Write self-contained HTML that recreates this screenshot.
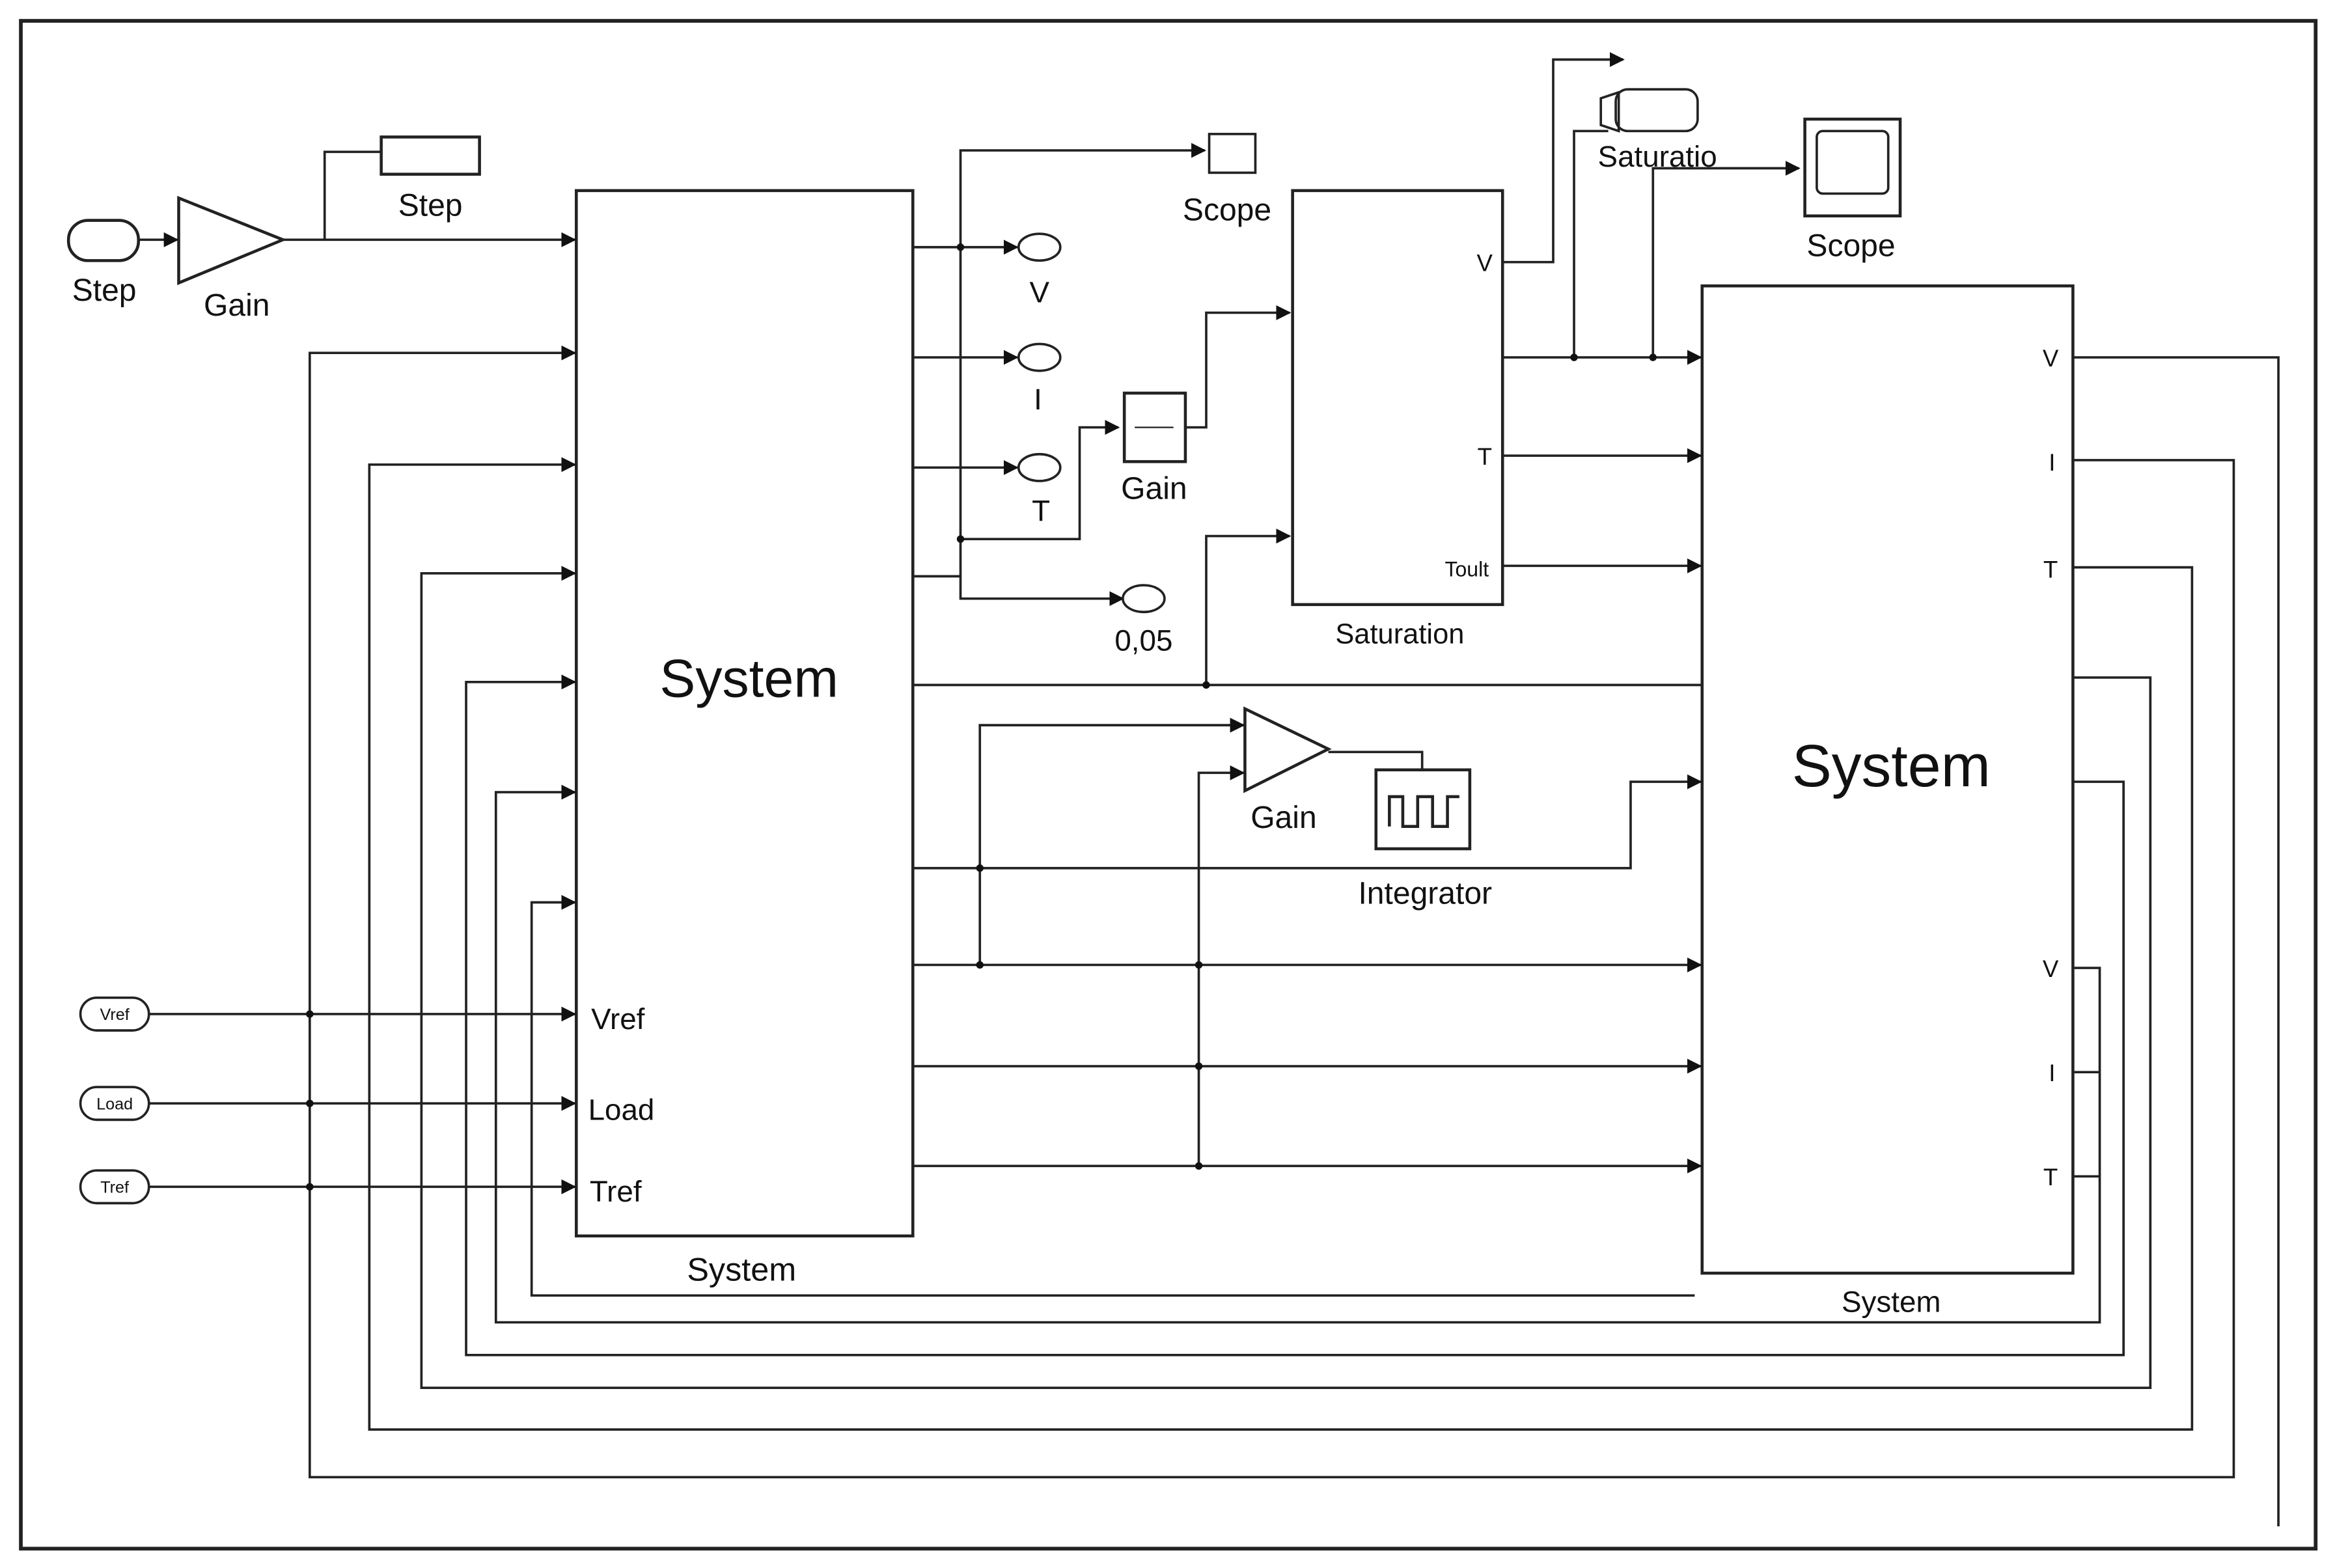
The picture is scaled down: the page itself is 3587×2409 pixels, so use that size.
<!DOCTYPE html>
<html><head><meta charset="utf-8"><style>html,body{margin:0;padding:0;background:#fff}svg{display:block}</style></head>
<body>
<svg width="3587" height="2409" viewBox="0 0 1568 1053" preserveAspectRatio="none" xmlns="http://www.w3.org/2000/svg" font-family="Liberation Sans, sans-serif" fill="none" stroke="#222" stroke-width="1.6">
<defs><marker id="a" markerWidth="10" markerHeight="10" refX="9" refY="5" orient="auto" markerUnits="userSpaceOnUse"><path d="M0,0 L10,5 L0,10z" fill="#111" stroke="none"/></marker></defs>
<rect x="14" y="14" width="1541" height="1026" stroke-width="2.5"/>
<!-- blocks -->
<rect x="387" y="128" width="226" height="702" stroke-width="2"/>
<rect x="1143" y="192" width="249" height="663" stroke-width="2"/>
<rect x="868" y="128" width="141" height="278" stroke-width="2"/>
<g fill="#111" stroke="none">
<text x="503" y="468" font-size="36" text-anchor="middle">System</text>
<text x="1270" y="528" font-size="40" text-anchor="middle">System</text>
<text x="498" y="860" font-size="22" text-anchor="middle">System</text>
<text x="1270" y="881" font-size="20" text-anchor="middle">System</text>
<text x="940" y="432" font-size="19" text-anchor="middle">Saturation</text>
<text x="997" y="182" font-size="16" text-anchor="middle">V</text>
<text x="997" y="312" font-size="16" text-anchor="middle">T</text>
<text x="985" y="387" font-size="14" text-anchor="middle">Toult</text>
<text x="70" y="202" font-size="21" text-anchor="middle">Step</text>
<text x="159" y="212" font-size="21" text-anchor="middle">Gain</text>
<text x="289" y="145" font-size="21" text-anchor="middle">Step</text>
<text x="698" y="203" font-size="20" text-anchor="middle">V</text>
<text x="697" y="275" font-size="20" text-anchor="middle">I</text>
<text x="699" y="350" font-size="20" text-anchor="middle">T</text>
<text x="768" y="437" font-size="20" text-anchor="middle">0,05</text>
<text x="824" y="148" font-size="21" text-anchor="middle">Scope</text>
<text x="775" y="335" font-size="21" text-anchor="middle">Gain</text>
<text x="1113" y="112" font-size="20" text-anchor="middle">Saturatio</text>
<text x="1243" y="172" font-size="21" text-anchor="middle">Scope</text>
<text x="862" y="556" font-size="21" text-anchor="middle">Gain</text>
<text x="957" y="607" font-size="21" text-anchor="middle">Integrator</text>
<text x="397" y="691" font-size="20">Vref</text>
<text x="395" y="752" font-size="20">Load</text>
<text x="396" y="807" font-size="20">Tref</text>
<text x="1377" y="246" font-size="16" text-anchor="middle">V</text>
<text x="1378" y="316" font-size="16" text-anchor="middle">I</text>
<text x="1377" y="388" font-size="16" text-anchor="middle">T</text>
<text x="1377" y="656" font-size="16" text-anchor="middle">V</text>
<text x="1378" y="726" font-size="16" text-anchor="middle">I</text>
<text x="1377" y="796" font-size="16" text-anchor="middle">T</text>
<text x="77" y="685" font-size="11" text-anchor="middle">Vref</text>
<text x="77" y="745" font-size="11" text-anchor="middle">Load</text>
<text x="77" y="801" font-size="11" text-anchor="middle">Tref</text>
</g>
<!-- sources -->
<rect x="46" y="148" width="47" height="27" rx="13" stroke-width="2"/>
<path d="M93,161 H119" marker-end="url(#a)"/>
<path d="M120,133 L190,161 L120,190z" stroke-width="2"/>
<path d="M190,161 H386" marker-end="url(#a)"/>
<path d="M218,161 V102 H256"/>
<rect x="256" y="92" width="66" height="25" stroke-width="2"/>
<rect x="54" y="670" width="46" height="22" rx="11"/>
<rect x="54" y="730" width="46" height="22" rx="11"/>
<rect x="54" y="786" width="46" height="22" rx="11"/>
<path d="M100,681 H386" marker-end="url(#a)"/>
<path d="M100,741 H386" marker-end="url(#a)"/>
<path d="M100,797 H386" marker-end="url(#a)"/>
<!-- feedback loops -->
<path d="M1392,240 H1530 V1025"/>
<path d="M1392,309 H1500 V992 H208 V237 H386" marker-end="url(#a)"/>
<path d="M1392,381 H1472 V960 H248 V312 H386" marker-end="url(#a)"/>
<path d="M1392,455 H1444 V932 H283 V385 H386" marker-end="url(#a)"/>
<path d="M1392,525 H1426 V910 H313 V458 H386" marker-end="url(#a)"/>
<path d="M1392,650 H1410 V888 H333 V532 H386" marker-end="url(#a)"/>
<path d="M1392,720 H1410 M1392,790 H1410"/>
<path d="M1138,870 H357 V606 H386" marker-end="url(#a)"/>
<!-- left outputs -->
<path d="M613,166 H683" marker-end="url(#a)"/>
<path d="M613,240 H683" marker-end="url(#a)"/>
<path d="M613,314 H683" marker-end="url(#a)"/>
<ellipse cx="698" cy="166" rx="14" ry="9"/><ellipse cx="698" cy="240" rx="14" ry="9"/><ellipse cx="698" cy="314" rx="14" ry="9"/>
<path d="M613,387 H645 V402 H754" marker-end="url(#a)"/>
<ellipse cx="768" cy="402" rx="14" ry="9"/>
<path d="M645,387 V101 H809" marker-end="url(#a)"/>
<rect x="812" y="90" width="31" height="26"/>
<path d="M645,362 H725 V287 H751" marker-end="url(#a)"/>
<rect x="755" y="264" width="41" height="46" stroke-width="2"/>
<path d="M762,287 H788" stroke-width="1"/>
<path d="M796,287 H810 V210 H866" marker-end="url(#a)"/>
<path d="M613,460 H1143 M810,460 V360 H866" marker-end="url(#a)"/>
<!-- saturation outputs -->
<path d="M1009,176 H1043 V40 H1090" marker-end="url(#a)"/>
<rect x="1085" y="60" width="55" height="28" rx="8"/>
<path d="M1075,66 L1087,62 L1087,88 L1075,84z"/>
<path d="M1009,240 H1142" marker-end="url(#a)"/>
<path d="M1057,240 V88 H1080"/>
<path d="M1110,240 V113 H1208" marker-end="url(#a)"/>
<rect x="1212" y="80" width="64" height="65" stroke-width="2"/>
<rect x="1220" y="88" width="48" height="42" rx="4"/>
<path d="M1009,306 H1142" marker-end="url(#a)"/>
<path d="M1009,380 H1142" marker-end="url(#a)"/>
<!-- gain 2 and integrator -->
<path d="M836,476 L892,503 L836,531z" stroke-width="2"/>
<path d="M892,505 H955 V517"/>
<rect x="924" y="517" width="63" height="53" stroke-width="2"/>
<path d="M933,555 V535 H942 V555 H952 V535 H962 V555 H972 V535 H980" stroke-width="2"/>
<path d="M613,583 H1095 V525 H1142" marker-end="url(#a)"/>
<path d="M658,648 V487 H835" marker-end="url(#a)"/>
<path d="M805,783 V519 H835" marker-end="url(#a)"/>
<path d="M613,648 H1142" marker-end="url(#a)"/>
<path d="M613,716 H1142" marker-end="url(#a)"/>
<path d="M613,783 H1142" marker-end="url(#a)"/>
<g fill="#111" stroke="none">
<circle cx="208" cy="681" r="2.5"/><circle cx="208" cy="741" r="2.5"/><circle cx="208" cy="797" r="2.5"/>
<circle cx="645" cy="166" r="2.5"/><circle cx="645" cy="362" r="2.5"/><circle cx="810" cy="460" r="2.5"/>
<circle cx="1057" cy="240" r="2.5"/><circle cx="1110" cy="240" r="2.5"/>
<circle cx="658" cy="583" r="2.5"/><circle cx="658" cy="648" r="2.5"/>
<circle cx="805" cy="648" r="2.5"/><circle cx="805" cy="716" r="2.5"/><circle cx="805" cy="783" r="2.5"/>
</g>
</svg>
</body></html>
